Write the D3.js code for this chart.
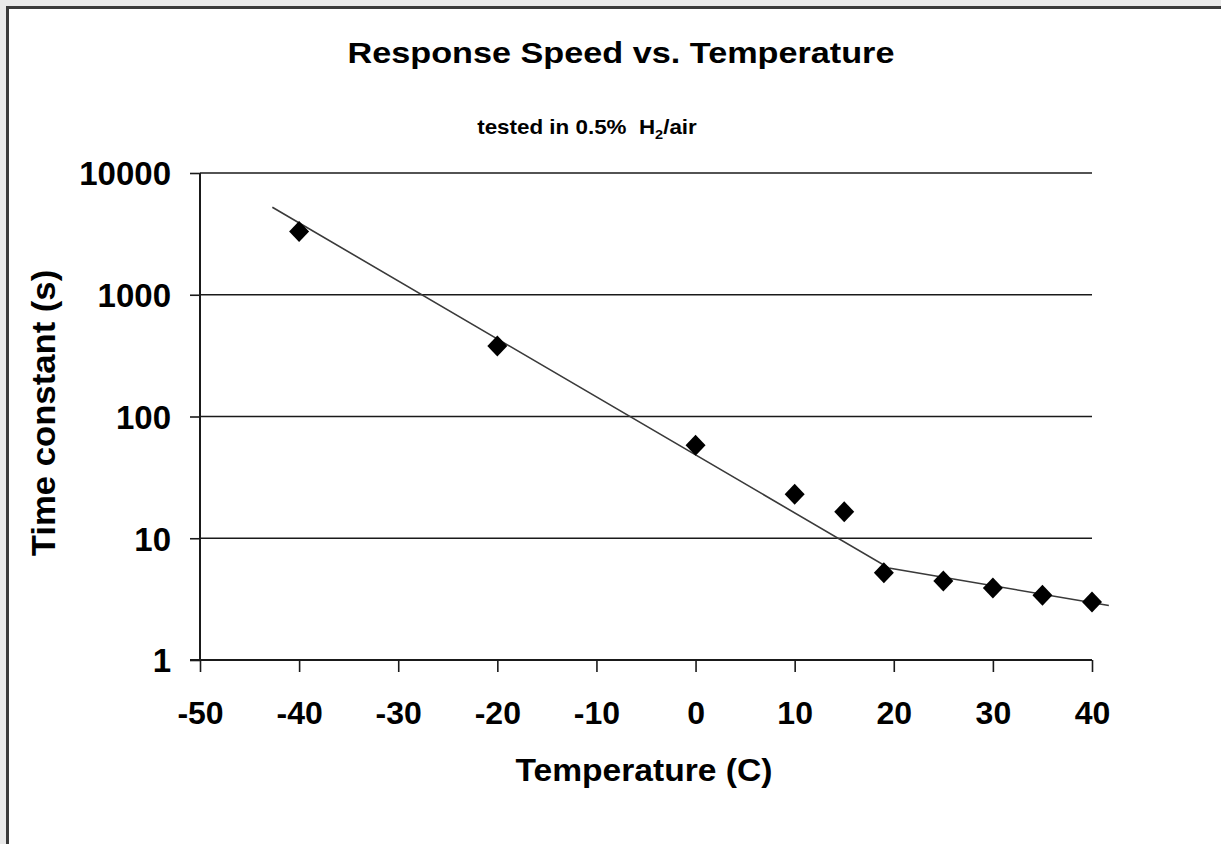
<!DOCTYPE html>
<html>
<head>
<meta charset="utf-8">
<script src="https://cdn.jsdelivr.net/npm/d3@7"></script>
<style>
  html, body { margin: 0; padding: 0; background: #e9e9e9; }
  svg { display: block; }
  text { font-family: "Liberation Sans", Arial, sans-serif; font-weight: bold; fill: #000; }
</style>
</head>
<body>
<svg id="chart" width="1221" height="844"></svg>
<script>
// ---- data ----
const temps = [-40, -20, 0, 10, 15, 19, 25, 30, 35, 40];
const timeConstants = [3300, 380, 58, 23, 16.5, 5.2, 4.45, 3.9, 3.4, 3.0];
const trendTemps = [-42.7, 19.5, 41.7];
const trendValues = [5230, 5.7, 2.8];
const xTicks = [-50, -40, -30, -20, -10, 0, 10, 20, 30, 40];
const yTicks = [1, 10, 100, 1000, 10000];
const titleText = "Response Speed vs. Temperature";
const xTitle = "Temperature (C)";
const yTitle = "Time constant (s)";

const svg = d3.select("#chart");

// frame
svg.append("rect").attr("x", 0).attr("y", 0).attr("width", 1221).attr("height", 844).attr("fill", "#e9e9e9");
svg.append("rect").attr("x", 7.5).attr("y", 7.5).attr("width", 1240).attr("height", 900)
  .attr("fill", "#fff").attr("stroke", "#3a3a3a").attr("stroke-width", 3);

const x = d3.scaleLinear().domain([-50, 40]).range([200, 1092]);
const y = d3.scaleLog().domain([1, 10000]).range([660, 173]);

// gridlines
svg.append("g").selectAll("line").data(yTicks.filter(v => v > 1)).join("line")
  .attr("x1", x(-50)).attr("x2", x(40))
  .attr("y1", d => y(d)).attr("y2", d => y(d))
  .attr("stroke", "#1a1a1a").attr("stroke-width", 1.4);

// axes
const gy = svg.append("g").attr("transform", `translate(${x(-50)},0)`)
  .call(d3.axisLeft(y).tickValues(yTicks).tickFormat(d3.format("d")).tickSize(10).tickPadding(19));
gy.select(".domain").remove();
gy.selectAll(".tick line").attr("stroke", "#1a1a1a").attr("stroke-width", 1.6);
gy.selectAll(".tick text").attr("font-size", 33).attr("font-family", null).attr("dy", "0.36em");

const gx = svg.append("g").attr("transform", `translate(0,${y(1)})`)
  .call(d3.axisBottom(x).tickValues(xTicks).tickFormat(d => String(d)).tickSize(12).tickPadding(29));
gx.select(".domain").remove();
gx.selectAll(".tick line").attr("stroke", "#1a1a1a").attr("stroke-width", 1.6);
gx.selectAll(".tick text").attr("font-size", 32).attr("font-family", null);

// axis lines
svg.append("line").attr("x1", x(-50)).attr("x2", x(-50)).attr("y1", y(10000)).attr("y2", y(1))
  .attr("stroke", "#1a1a1a").attr("stroke-width", 2);
svg.append("line").attr("x1", x(-50) - 10).attr("x2", x(40)).attr("y1", y(1)).attr("y2", y(1))
  .attr("stroke", "#1a1a1a").attr("stroke-width", 2);

// trend line
const trend = trendTemps.map((t, i) => [t, trendValues[i]]);
svg.append("path").datum(trend)
  .attr("d", d3.line().x(d => x(d[0])).y(d => y(d[1])))
  .attr("fill", "none").attr("stroke", "#3a3a3a").attr("stroke-width", 1.6);

// markers
const pts = temps.map((t, i) => [t, timeConstants[i]]);
svg.append("g").selectAll("path").data(pts).join("path")
  .attr("transform", d => `translate(${x(d[0])},${y(d[1])})`)
  .attr("d", "M0,-10.5L10,0L0,10.5L-10,0Z")
  .attr("fill", "#000");

// titles
svg.append("text").attr("transform", "translate(621,63) scale(1.16,1)")
  .attr("text-anchor", "middle").attr("font-size", 29.5).text(titleText);

const sub = svg.append("text").attr("transform", "translate(587,134) scale(1.12,1)")
  .attr("text-anchor", "middle").attr("font-size", 20).style("white-space", "pre");
sub.append("tspan").text("tested in 0.5%  H");
sub.append("tspan").attr("font-size", 13).attr("dy", 5).text("2");
sub.append("tspan").attr("dy", -5).text("/air");

svg.append("text").attr("x", 644).attr("y", 781).attr("text-anchor", "middle")
  .attr("font-size", 32).attr("transform", "translate(644,0) scale(1.05,1) translate(-644,0)").text(xTitle);

svg.append("text").attr("transform", "translate(55,413) rotate(-90) scale(1.02,1)")
  .attr("text-anchor", "middle").attr("font-size", 34).text(yTitle);
</script>
</body>
</html>
